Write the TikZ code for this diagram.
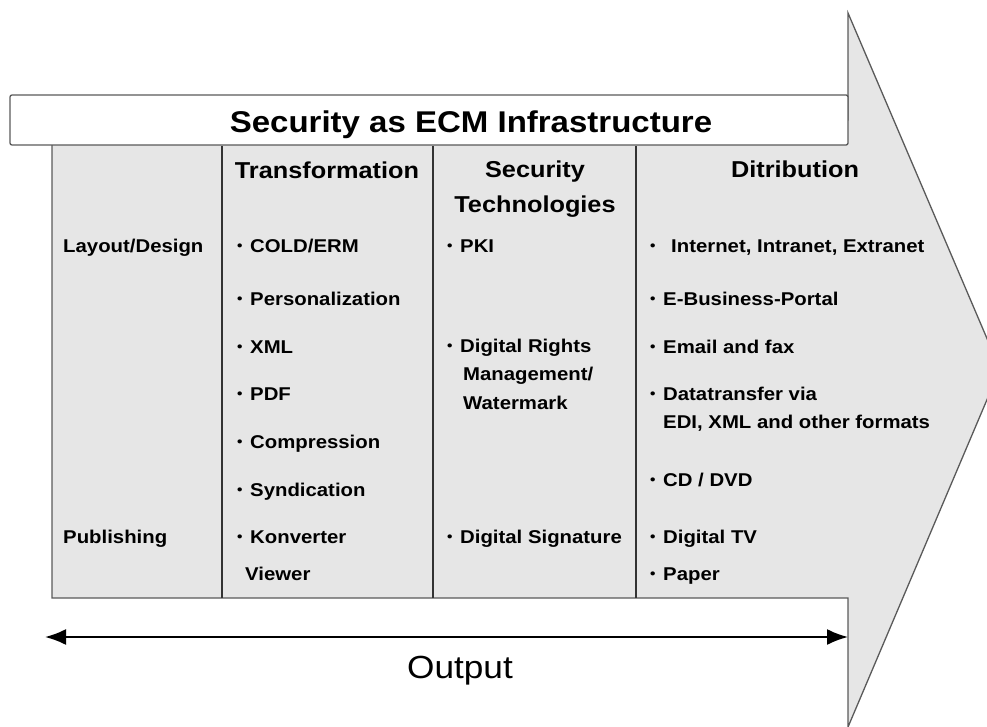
\documentclass[tikz,border=0pt]{standalone}
\usepackage{fontspec}
\setmainfont{Liberation Sans}[FakeStretch=1.1]
\usetikzlibrary{arrows.meta}

\definecolor{panel}{HTML}{E6E6E6}
\definecolor{rim}{HTML}{5A5A5A}
\newcommand\dotmark{\raisebox{1.5pt}{\fontsize{14}{14}\selectfont•}}
\newcommand\itm[1]{\makebox[13pt][l]{\dotmark}#1}
\newcommand\itmw[1]{\makebox[21pt][l]{\dotmark}#1}

\begin{document}
\begin{tikzpicture}[x=1pt,y=-1pt,
    every node/.style={inner sep=0pt, anchor=base west,
      font=\fontsize{18.5}{22}\selectfont\bfseries},
    head/.style={anchor=base, font=\fontsize{23}{28}\selectfont\bfseries},
    divider/.style={line width=2.2pt, black!80}]

    \useasboundingbox (0,0) rectangle (987,727);
    \clip (0,0) rectangle (987,727);

    % Big arrow (body and head)
    \draw [rim, fill=panel, line width=1.3pt]
      (52,120) -- (848,120) -- (848,13) -- (1000,369)
      -- (848,727) -- (848,598) -- (52,598) -- cycle;

    % Title bar
    \draw [rim, fill=white, line width=1.3pt, rounded corners=2pt]
      (10,95) rectangle (848,145);
    \node [anchor=base, font=\fontsize{30}{36}\selectfont\bfseries]
      (title) at (471,133) {Security as ECM Infrastructure};

    % Column separators
    \foreach \x in {222,433,636} {
      \draw [divider] (\x,146) -- (\x,598);
    }

    % Column heads
    \node [head] (transf) at (327,179) {Transformation};
    \node [head] (sec)    at (535,178) {Security};
    \node [head] (tech)   at (535,213) {Technologies};
    \node [head] (distr)  at (795,178) {Ditribution};

    % First column
    \node (layout) at (63,252) {Layout/Design};
    \node (publ)   at (63,543) {Publishing};

    % Transformation items
    \foreach \y/\t [count=\i] in {252/{COLD/ERM}, 305/Personalization,
        353/XML, 400/PDF, 448/Compression, 496/Syndication, 543/Konverter} {
      \node (tr\i) at (237,\y) {\itm{\t}};
    }
    \node (tr8) at (245,580) {Viewer};

    % Security technologies
    \node (st1) at (447,252) {\itm{PKI}};
    \node (st2) at (447,352) {\itm{Digital Rights}};
    \node (st3) at (463,380) {Management/};
    \node (st4) at (463,409) {Watermark};
    \node (st5) at (447,543) {\itm{Digital Signature}};

    % Distribution items
    \node (di1) at (650,252) {\itmw{Internet, Intranet, Extranet}};
    \foreach \y/\t [count=\i from 2] in {305/E-Business-Portal,
        353/Email and fax, 400/Datatransfer via, 486/{CD / DVD},
        543/Digital TV, 580/Paper} {
      \node (di\i) at (650,\y) {\itm{\t}};
    }
    \node (di8) at (663,428) {EDI, XML and other formats};

    % Output arrow
    \coordinate (outL) at (45,637);
    \coordinate (outR) at (848,637);
    \draw [{Latex[length=21pt,width=16pt]}-{Latex[length=21pt,width=16pt]},
      line width=2pt] (outL) -- (outR);
    \node [anchor=base, font=\fontsize{32}{38}\selectfont]
      (outlbl) at (460,678) {Output};

\end{tikzpicture}
\end{document}
